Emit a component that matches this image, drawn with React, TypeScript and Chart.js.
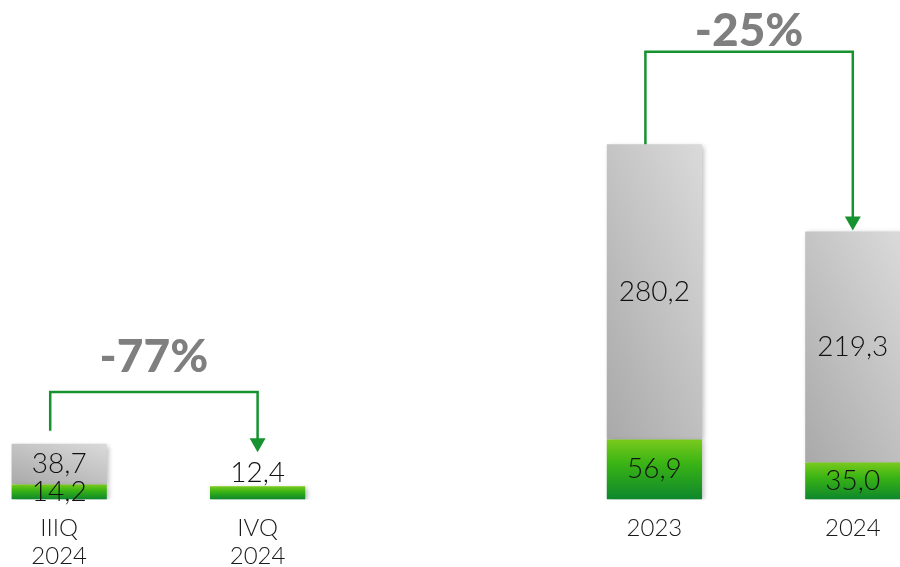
import React, { useEffect, useRef } from 'react';
import { Chart, registerables } from 'chart.js';

Chart.register(...registerables);

// ---- data ----
const categories: (string | string[])[] = [['IIIQ', '2024'], ['IVQ', '2024'], '', '2023', '2024'];
const greenValues: (number | null)[] = [14.2, 12.4, null, 56.9, 35.0];
const grayValues: (number | null)[] = [38.7, null, null, 280.2, 219.3];
const bracketFrom = [0, 3];
const bracketTo = [1, 4];
const bracketLevel = [102, 425];
const bracketText = ['-77%', '-25%'];
const yMax = 474;

// ---- style ----
const BAR_PCT = 0.48;
const startGap = [13, 0];
const textGap = [20, 6];

const fmt = (v: number) => v.toFixed(1).replace('.', ',');
const total = (i: number) => (greenValues[i] ?? 0) + (grayValues[i] ?? 0);

function barRect(chart: any, index: number, lo: number, hi: number) {
  const xs = chart.scales.x;
  const ys = chart.scales.y;
  const cx = xs.getPixelForValue(index);
  const half = (xs.width / categories.length) * BAR_PCT / 2;
  return { left: cx - half, right: cx + half, top: ys.getPixelForValue(hi), bottom: ys.getPixelForValue(lo) };
}

function greenFill(ctx: any) {
  const chart = ctx.chart;
  const v = greenValues[ctx.dataIndex];
  if (!chart.chartArea || ctx.type !== 'data' || v == null) return '#3ab313';
  const r = barRect(chart, ctx.dataIndex, 0, v);
  const g = chart.ctx.createLinearGradient(0, r.top, 0, r.bottom);
  g.addColorStop(0, '#7aca1d');
  g.addColorStop(0.4, '#3ab414');
  g.addColorStop(1, '#0d872c');
  return g;
}

function grayFill(ctx: any) {
  const chart = ctx.chart;
  const s = grayValues[ctx.dataIndex];
  if (!chart.chartArea || ctx.type !== 'data' || s == null) return '#c4c4c4';
  const base = greenValues[ctx.dataIndex] ?? 0;
  const r = barRect(chart, ctx.dataIndex, base, base + s);
  const w = Math.max(1, r.right - r.left);
  const h = Math.max(1, r.bottom - r.top);
  const a = 20 / w;
  const b = 25 / h;
  const L = 45;
  const k = L / (a * a + b * b);
  const g = chart.ctx.createLinearGradient(r.left, r.bottom, r.left + a * k, r.bottom - b * k);
  g.addColorStop(0, '#a9a9a9');
  g.addColorStop(1, '#dadada');
  return g;
}

const shadowPlugin = {
  id: 'barShadow',
  beforeDatasetDraw(chart: any) {
    const c = chart.ctx;
    c.save();
    c.shadowColor = 'rgba(0,0,0,0.28)';
    c.shadowBlur = 5;
    c.shadowOffsetX = 2;
    c.shadowOffsetY = 2;
  },
  afterDatasetDraw(chart: any) {
    chart.ctx.restore();
  },
};

const annotationPlugin = {
  id: 'annotations',
  afterDatasetsDraw(chart: any) {
    const c = chart.ctx;
    const x = chart.scales.x;
    const y = chart.scales.y;
    c.save();
    // value labels
    c.font = '300 28px Lato';
    c.fillStyle = '#111111';
    c.textAlign = 'center';
    categories.forEach((_, i) => {
      const g = greenValues[i];
      const s = grayValues[i];
      const cx = x.getPixelForValue(i);
      if (g != null) {
        if (s != null) {
          c.textBaseline = 'middle';
          c.fillText(fmt(g), cx, (y.getPixelForValue(0) + y.getPixelForValue(g)) / 2);
        } else {
          c.textBaseline = 'alphabetic';
          c.fillText(fmt(g), cx, y.getPixelForValue(g) - 4);
        }
      }
      if (s != null) {
        const b = g ?? 0;
        c.textBaseline = 'middle';
        c.fillText(fmt(s), cx, (y.getPixelForValue(b) + y.getPixelForValue(b + s)) / 2);
      }
    });
    // brackets
    bracketFrom.forEach((f, k) => {
      const t = bracketTo[k];
      const x1 = x.getPixelForValue(f) - 9;
      const x2 = x.getPixelForValue(t);
      const topF = y.getPixelForValue(total(f));
      const topT = y.getPixelForValue(total(t));
      const yl = y.getPixelForValue(bracketLevel[k]);
      const startY = topF - startGap[k];
      const tipY = grayValues[t] == null ? topT - 34 : topT - 1;
      const headH = 14;
      const headW = 8;
      c.strokeStyle = '#16932e';
      c.fillStyle = '#16932e';
      c.lineWidth = 2.5;
      c.lineJoin = 'miter';
      c.beginPath();
      c.moveTo(x1, startY);
      c.lineTo(x1, yl);
      c.lineTo(x2, yl);
      c.lineTo(x2, tipY - headH + 1);
      c.stroke();
      c.beginPath();
      c.moveTo(x2 - headW, tipY - headH);
      c.lineTo(x2 + headW, tipY - headH);
      c.lineTo(x2, tipY);
      c.closePath();
      c.fill();
      c.font = '900 46px Lato';
      c.fillStyle = '#7f7f7f';
      c.textAlign = 'center';
      c.textBaseline = 'alphabetic';
      c.fillText(bracketText[k], (x1 + x2) / 2, yl - textGap[k]);
    });
    c.restore();
  },
};

export default function App() {
  const canvasRef = useRef<HTMLCanvasElement>(null);

  useEffect(() => {
    if (!canvasRef.current) return;
    const chart = new Chart(canvasRef.current, {
      type: 'bar',
      data: {
        labels: categories as any,
        datasets: [
          {
            label: 'green',
            data: greenValues as any,
            backgroundColor: greenFill as any,
            borderWidth: 0,
            categoryPercentage: BAR_PCT,
            barPercentage: 1,
          },
          {
            label: 'gray',
            data: grayValues as any,
            backgroundColor: grayFill as any,
            borderWidth: 0,
            categoryPercentage: BAR_PCT,
            barPercentage: 1,
          },
        ],
      },
      options: {
        animation: false,
        responsive: true,
        maintainAspectRatio: false,
        layout: { padding: 0 },
        plugins: { legend: { display: false }, tooltip: { enabled: false } },
        scales: {
          x: {
            stacked: true,
            offset: true,
            grid: { display: false, drawTicks: false },
            border: { display: false },
            ticks: {
              color: '#1a1a1a',
              font: { family: 'Lato', size: 24, weight: '300' as any, lineHeight: 1.2 },
              padding: 14,
              maxRotation: 0,
              autoSkip: false,
            },
          },
          y: {
            stacked: true,
            display: false,
            min: 0,
            max: yMax,
          },
        },
      },
      plugins: [shadowPlugin, annotationPlugin],
    });
    return () => chart.destroy();
  }, []);

  return (
    <div style={{ position: 'fixed', left: 0, top: 0, width: 900, height: 567, overflow: 'hidden', background: '#ffffff' }}>
      <div style={{ position: 'absolute', left: -40, top: 0, width: 992, height: 585 }}>
        <canvas ref={canvasRef} />
      </div>
    </div>
  );
}
